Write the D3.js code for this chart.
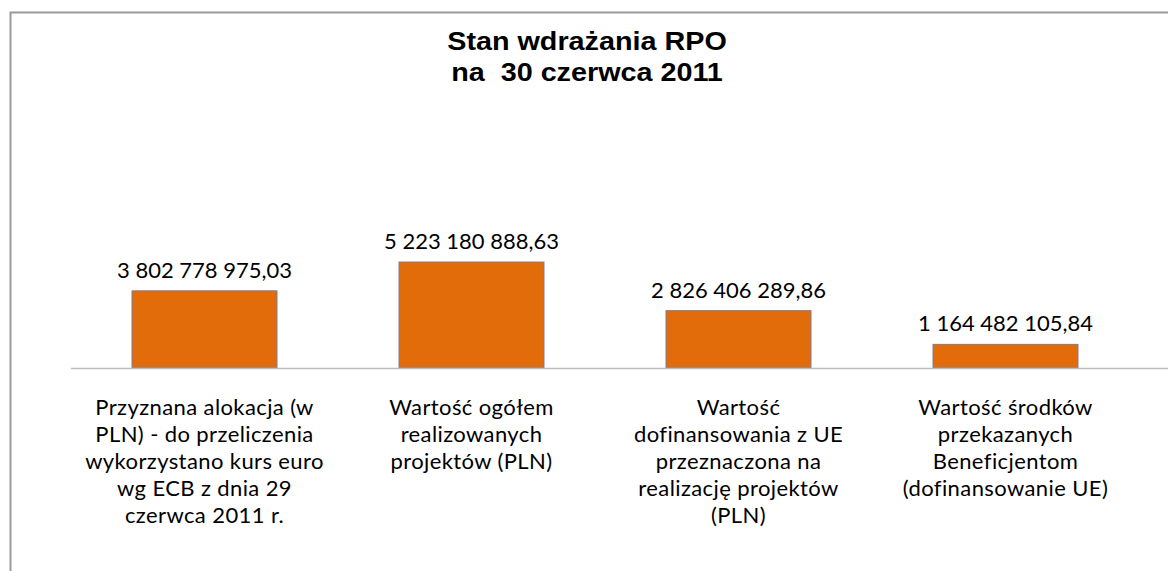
<!DOCTYPE html>
<html>
<head>
<meta charset="utf-8">
<script src="https://cdn.jsdelivr.net/npm/d3@7"></script>
<style>
    body { margin: 0; background: #fff; }
    svg { display: block; }
</style>
</head>
<body>
<svg></svg>
<script>
let WIDTH    = 1168,
    HEIGHT   = 571,
    BASELINE = 368;

let titleLines = ["Stan wdrażania RPO", "na  30 czerwca 2011"];

let categories = ["alokacja", "ogolem", "dofinansowanie", "przekazane"];

let categoryLines = [
    ["Przyznana alokacja (w", "PLN) - do przeliczenia", "wykorzystano kurs euro", "wg ECB z dnia 29", "czerwca 2011 r."],
    ["Wartość ogółem", "realizowanych", "projektów (PLN)"],
    ["Wartość", "dofinansowania z UE", "przeznaczona na", "realizację projektów", "(PLN)"],
    ["Wartość środków", "przekazanych", "Beneficjentom", "(dofinansowanie UE)"]
];

let values = [3802778975.03, 5223180888.63, 2826406289.86, 1164482105.84];


let svg = d3.select("svg")
            .attr("width", WIDTH)
            .attr("height", HEIGHT);

// outer frame of the chart, it runs off the right and bottom edge
svg.append("rect")
   .attr("x", 10.5)
   .attr("y", 12.5)
   .attr("width", 1200)
   .attr("height", 600)
   .attr("fill", "#fff")
   .attr("stroke", "#9a9a9a")
   .attr("stroke-width", 2);

// title
let title = svg.append("text")
               .attr("font-family", "'Liberation Sans', Arial, sans-serif")
               .attr("font-weight", "bold")
               .attr("font-size", 25)
               .attr("fill", "#000")
               .attr("text-anchor", "middle")
               .attr("transform", "translate(587,0) scale(1.15,1)")
               .style("white-space", "pre");

title.selectAll("tspan")
     .data(titleLines)
     .enter()
     .append("tspan")
     .attr("x", 0)
     .attr("y", function (d, i) { return 50 + i * 31; })
     .text(function (d) { return d; });

let x = d3.scaleBand()
          .domain(categories)
          .range([71, 1139])
          .paddingInner(0.457)
          .paddingOuter(0.2285);

let y = d3.scaleLinear()
          .domain([0, 1e10])
          .range([BASELINE, BASELINE - 202.9]);

let fmt = d3.formatLocale({
    decimal  : ",",
    thousands: " ",
    grouping : [3],
    currency : ["", ""]
}).format(",.2f");

// bars
svg.selectAll("rect.bar")
   .data(values)
   .enter()
   .append("rect")
   .attr("class", "bar")
   .attr("x", function (d, i) { return x(categories[i]); })
   .attr("y", function (d) { return y(d); })
   .attr("width", x.bandwidth())
   .attr("height", function (d) { return y(0) - y(d); })
   .attr("fill", "#E36C0A")
   .attr("stroke", "#7b7b9b")
   .attr("stroke-width", 1);

// value labels
svg.selectAll("text.value")
   .data(values)
   .enter()
   .append("text")
   .attr("class", "value")
   .attr("x", function (d, i) { return x(categories[i]) + x.bandwidth() / 2; })
   .attr("y", function (d) { return y(d) - 13; })
   .attr("text-anchor", "middle")
   .attr("font-family", "Lato, 'Open Sans', sans-serif")
   .attr("font-size", 22)
   .attr("fill", "#000")
   .text(function (d) { return fmt(d); });

// category axis
let axis = svg.append("g")
              .attr("transform", "translate(0," + BASELINE + ")")
              .call(d3.axisBottom(x).tickSize(0).tickFormat(""));

axis.select(".domain").remove();

axis.append("line")
    .attr("x1", x.range()[0])
    .attr("x2", WIDTH)
    .attr("y1", 0.5)
    .attr("y2", 0.5)
    .attr("stroke", "#bdbdbd")
    .attr("stroke-width", 1.5);

axis.selectAll(".tick text").remove();

axis.selectAll(".tick")
    .append("text")
    .attr("text-anchor", "middle")
    .attr("font-family", "Lato, 'Open Sans', sans-serif")
    .attr("font-size", 22)
    .attr("letter-spacing", 0.4)
    .attr("fill", "#000")
    .each(function (d, i) {
        d3.select(this)
          .selectAll("tspan")
          .data(categoryLines[i])
          .enter()
          .append("tspan")
          .attr("x", 0)
          .attr("y", function (t, j) { return 47 + j * 27; })
          .text(function (t) { return t; });
    });
</script>
</body>
</html>
